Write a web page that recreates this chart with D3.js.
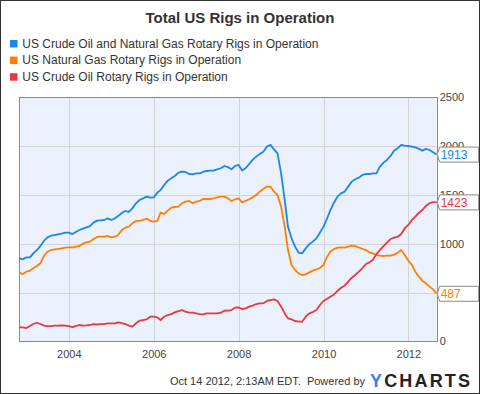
<!DOCTYPE html>
<html>
<head>
<meta charset="utf-8">
<script src="https://cdn.jsdelivr.net/npm/d3@7"></script>
<style>
  body { margin: 0; background: #fff; }
  svg { display: block; font-family: "Liberation Sans", Arial, sans-serif; }
</style>
</head>
<body>
<div id="chart"></div>
<script>

// monthly readings, Nov 2002 .. Sep 2012
var firstMonth = "2002-11-01";

var totalRigs = [
  850, 840,
  860, 860, 901, 935, 976, 1028, 1065, 1082, 1089, 1096, 1103, 1113,
  1113, 1099, 1120, 1140, 1154, 1168, 1181, 1216, 1236, 1240, 1243, 1260,
  1243, 1260, 1284, 1315, 1335, 1325, 1362, 1414, 1448, 1465, 1482, 1472,
  1475, 1523, 1550, 1602, 1646, 1670, 1694, 1728, 1738, 1735, 1714, 1711,
  1721, 1721, 1735, 1745, 1749, 1749, 1762, 1773, 1796, 1785, 1762, 1796,
  1807, 1749, 1773, 1817, 1858, 1892, 1919, 1943, 1995, 2012, 1967, 1926,
  1721, 1448, 1175, 1055, 970, 908, 901, 952, 997, 1021, 1055, 1113,
  1175, 1260, 1345, 1420, 1482, 1516, 1533, 1585, 1636, 1660, 1677, 1704,
  1714, 1714, 1721, 1721, 1790, 1831, 1858, 1899, 1954, 1978, 2012, 2005,
  2001, 1995, 1988, 1971, 1954, 1971, 1960, 1937, 1913
];

var gasRigs = [
  703, 689,
  713, 724, 748, 771, 799, 874, 918, 935, 942, 946, 953, 959,
  963, 963, 970, 976, 1000, 1014, 1021, 1048, 1069, 1072, 1072, 1079,
  1065, 1072, 1089, 1140, 1164, 1175, 1209, 1233, 1233, 1243, 1257, 1233,
  1226, 1233, 1318, 1304, 1339, 1369, 1376, 1380, 1414, 1431, 1438, 1414,
  1431, 1438, 1458, 1458, 1458, 1465, 1475, 1482, 1482, 1465, 1438, 1455,
  1465, 1424, 1438, 1455, 1475, 1499, 1533, 1561, 1585, 1585, 1533, 1499,
  1380, 1175, 935, 782, 730, 696, 679, 686, 706, 724, 737, 751,
  782, 867, 918, 945, 959, 963, 959, 970, 980, 976, 963, 946,
  935, 911, 901, 884, 877, 874, 877, 877, 888, 908, 935, 884,
  826, 782, 713, 662, 621, 594, 560, 532, 487
];

var oilRigs = [
  143, 143,
  136, 156, 177, 190, 177, 160, 156, 156, 160, 160, 163, 160,
  156, 146, 156, 167, 160, 163, 167, 177, 173, 177, 177, 184,
  184, 184, 194, 187, 177, 160, 150, 184, 211, 218, 225, 252,
  252, 245, 218, 252, 269, 279, 296, 310, 320, 303, 293, 293,
  286, 279, 276, 286, 286, 286, 286, 293, 313, 315, 320, 344,
  348, 331, 338, 355, 365, 382, 389, 389, 413, 423, 430, 413,
  355, 286, 235, 225, 208, 201, 201, 252, 286, 300, 320, 372,
  413, 437, 457, 480, 515, 549, 570, 611, 652, 679, 713, 748,
  792, 809, 833, 891, 935, 976, 1011, 1048, 1062, 1072, 1099, 1158,
  1192, 1243, 1277, 1318, 1345, 1390, 1414, 1427, 1423
];

var seriesNames = [
  "US Crude Oil and Natural Gas Rotary Rigs in Operation",
  "US Natural Gas Rotary Rigs in Operation",
  "US Crude Oil Rotary Rigs in Operation"
];
var seriesColors = ["#1a87e6", "#ff8000", "#e8383d"];

var yearTicks = [2004, 2006, 2008, 2010, 2012];
var valueTicks = [0, 500, 1000, 1500, 2000, 2500];

var W = 480, H = 394;
var plot = {left: 19.3, right: 436.7, top: 97.3, bottom: 341.3};

var start = d3.timeParse("%Y-%m-%d")(firstMonth);
var dates = totalRigs.map(function (d, i) { return d3.timeMonth.offset(start, i); });

var series = [totalRigs, gasRigs, oilRigs].map(function (vals, k) {
  return {
    name: seriesNames[k],
    color: seriesColors[k],
    values: vals.map(function (v, i) { return {date: dates[i], value: v}; })
  };
});

var x = d3.scaleTime()
  .domain([dates[0], dates[dates.length - 1]])
  .range([plot.left, plot.right]);

var y = d3.scaleLinear()
  .domain([0, 2500])
  .range([plot.bottom, plot.top]);

var svg = d3.select("#chart").append("svg")
  .attr("width", W)
  .attr("height", H);

svg.append("rect")
  .attr("x", 0).attr("y", 0).attr("width", W).attr("height", H)
  .attr("fill", "#fff");

// title
svg.append("text")
  .attr("x", 240).attr("y", 23)
  .attr("text-anchor", "middle")
  .attr("font-size", "15px")
  .attr("font-weight", "bold")
  .attr("fill", "#333")
  .text("Total US Rigs in Operation");

// legend
var legend = svg.selectAll(".legend")
  .data(series)
  .enter()
  .append("g")
  .attr("transform", function (d, i) { return "translate(10," + (40 + i * 16.6) + ")"; });

legend.append("rect")
  .attr("width", 7.5).attr("height", 7.5)
  .attr("fill", function (d) { return d.color; });

legend.append("text")
  .attr("x", 12.3).attr("y", 7.7)
  .attr("font-size", "12px")
  .attr("fill", "#333")
  .text(function (d) { return d.name; });

// plot area
svg.append("rect")
  .attr("x", plot.left).attr("y", plot.top)
  .attr("width", plot.right - plot.left)
  .attr("height", plot.bottom - plot.top)
  .attr("fill", "#eaf0fc");

// grid
svg.append("g")
  .selectAll("line")
  .data(valueTicks.slice(1, -1))
  .enter()
  .append("line")
    .attr("x1", plot.left).attr("x2", plot.right)
    .attr("y1", function (d) { return Math.round(y(d)) + 0.5; })
    .attr("y2", function (d) { return Math.round(y(d)) + 0.5; })
    .attr("stroke", "#d3d3d3");

var yearDate = function (yr) { return new Date(yr, 0, 1); };

svg.append("g")
  .selectAll("line")
  .data(yearTicks)
  .enter()
  .append("line")
    .attr("x1", function (d) { return Math.round(x(yearDate(d))) + 0.5; })
    .attr("x2", function (d) { return Math.round(x(yearDate(d))) + 0.5; })
    .attr("y1", plot.top).attr("y2", plot.bottom)
    .attr("stroke", "#d3d3d3");

// border of plot
svg.append("rect")
  .attr("x", Math.round(plot.left) + 0.5).attr("y", Math.round(plot.top) + 0.5)
  .attr("width", Math.round(plot.right) - Math.round(plot.left))
  .attr("height", Math.round(plot.bottom) - Math.round(plot.top))
  .attr("fill", "none")
  .attr("stroke", "#8a8a8a");

// lines
var line = d3.line()
  .x(function (d) { return x(d.date); })
  .y(function (d) { return y(d.value); });

svg.append("g")
  .selectAll("path")
  .data(series)
  .enter()
  .append("path")
    .attr("d", function (d) { return line(d.values); })
    .attr("fill", "none")
    .attr("stroke", function (d) { return d.color; })
    .attr("stroke-width", 1.8)
    .attr("stroke-linejoin", "round");

// x axis
var xAxis = d3.axisBottom(x)
  .tickValues(yearTicks.map(yearDate))
  .tickSize(0)
  .tickPadding(9)
  .tickFormat(d3.timeFormat("%Y"));

svg.append("g")
  .attr("transform", "translate(0," + plot.bottom + ")")
  .call(xAxis)
  .call(function (g) { g.select(".domain").remove(); })
  .selectAll("text")
    .attr("font-size", "11px")
    .attr("font-family", "Liberation Sans, Arial, sans-serif")
    .attr("fill", "#444");

// y axis on right
var yAxis = d3.axisRight(y)
  .tickValues(valueTicks)
  .tickSize(0)
  .tickPadding(3)
  .tickFormat(d3.format("d"));

svg.append("g")
  .attr("transform", "translate(" + plot.right + ",0)")
  .call(yAxis)
  .call(function (g) { g.select(".domain").remove(); })
  .selectAll("text")
    .attr("font-size", "11px")
    .attr("font-family", "Liberation Sans, Arial, sans-serif")
    .attr("fill", "#444");

// last value flags (they sit over the right tick labels, as in the original)
var flags = svg.append("g")
  .selectAll("g")
  .data(series)
  .enter()
  .append("g")
  .attr("transform", function (d) {
    var last = d.values[d.values.length - 1];
    return "translate(" + plot.right + "," + y(last.value) + ")";
  });

flags.append("path")
  .attr("d", "M0.5,0 L3,-7.5 L42,-7.5 L42,7.5 L3,7.5 Z")
  .attr("fill", "#fff")
  .attr("stroke", "#888");

flags.append("text")
  .attr("x", 4).attr("y", 4.3)
  .attr("font-size", "12px")
  .attr("fill", function (d) { return d.color; })
  .text(function (d) { return d.values[d.values.length - 1].value; });

// footer
svg.append("text")
  .attr("x", 365).attr("y", 385)
  .attr("text-anchor", "end")
  .attr("font-size", "11px")
  .attr("fill", "#333")
  .style("white-space", "pre")
  .text("Oct 14 2012, 2:13AM EDT.  Powered by");

var logo = svg.append("text")
  .attr("x", 370).attr("y", 386.5)
  .attr("font-size", "18px")
  .attr("font-weight", "bold")
  .attr("textLength", 100)
  .attr("lengthAdjust", "spacing");
logo.append("tspan").attr("fill", "#3f7fe6").text("Y");
logo.append("tspan").attr("fill", "#222").text("CHARTS");

// outer frame
svg.append("rect")
  .attr("x", 0.5).attr("y", 0.5).attr("width", W - 1).attr("height", H - 1)
  .attr("fill", "none")
  .attr("stroke", "#333");

</script>
</body>
</html>
